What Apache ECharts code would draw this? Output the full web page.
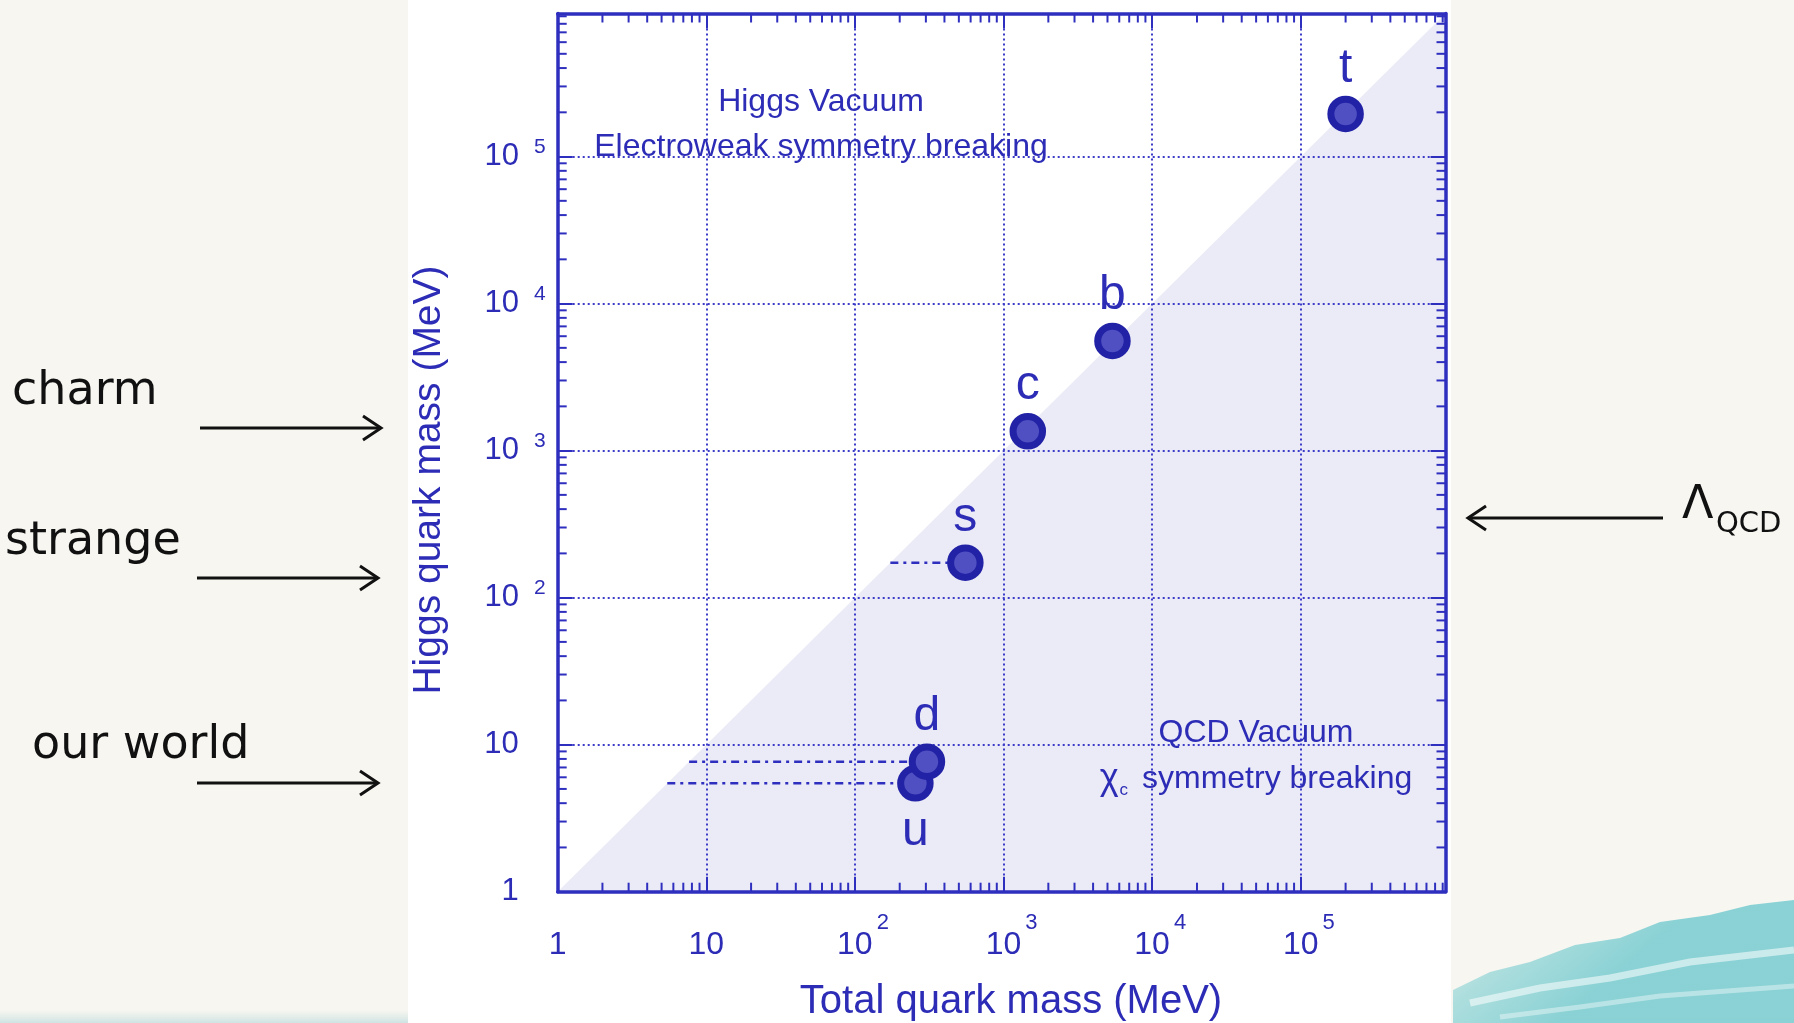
<!DOCTYPE html>
<html>
<head>
<meta charset="utf-8">
<script src="https://cdn.jsdelivr.net/npm/echarts@6/dist/echarts.min.js"></script>
<style>
  html, body { margin: 0; padding: 0; background: #f7f6f1; }
  #chart { width: 1794px; height: 1023px; }
</style>
</head>
<body>
<div id="chart"></div>
<script>
// Quark masses (MeV): total mass vs. the part coming from the Higgs field
const quarks    = ['u', 'd', 's', 'c', 'b', 't'];
const totalMass = [255, 305, 553, 1455, 5400, 200000];
const higgsMass = [5.46, 7.66, 173, 1355, 5570, 195000];
const labelSide = ['bottom', 'top', 'top', 'top', 'top', 'top'];
// quarks whose Higgs mass is marked by a dash-dot bar back to the diagonal
const barQuarks = ['s', 'd', 'u'];

// axis range (both axes logarithmic)
const axisMin = 1;
const axisMax = 9.4e5;
// minor tick multipliers inside each decade
const minorSteps = [2, 3, 4, 5, 6, 7, 8, 9];
const decades = [1, 10, 100, 1e3, 1e4, 1e5];

const BLUE = '#2f2fbf';
const TEXT_BLUE = '#2c2cb6';
const FONT = '"Liberation Sans", Arial, Helvetica, sans-serif';

const minorValues = [];
decades.forEach(d => minorSteps.forEach(m => {
  if (d * m < axisMax) minorValues.push(d * m);
}));

function decadeExp(v) {
  const l = Math.log10(v);
  const e = Math.round(l);
  return Math.abs(l - e) < 1e-6 ? e : null;
}

function xLabel(v) {
  const e = decadeExp(v);
  if (e === null) return '';
  if (e === 0) return '{b|1}';
  if (e === 1) return '{b|10}';
  return '{p| }{b|10}{s|' + e + '}';
}
function yLabel(v) {
  const e = decadeExp(v);
  if (e === null) return '';
  if (e === 0) return '{b|1}{p| }';
  if (e === 1) return '{b|10}{p| }';
  return '{b|10}{s|' + e + '}';
}

const chart = echarts.init(document.getElementById('chart'), null, { renderer: 'canvas' });

const logAxis = (extra) => Object.assign({
  type: 'log',
  logBase: 10,
  min: axisMin,
  max: axisMax,
  z: 3,
  axisLine: { show: true, onZero: false, lineStyle: { color: BLUE, width: 3.5 } },
  axisTick: { show: true, inside: true, length: 15, lineStyle: { color: BLUE, width: 2 } },
  splitLine: { show: false },
  axisLabel: { show: false }
}, extra);

// diagonal region where the QCD vacuum dominates (below total = Higgs)
function renderShade(params, api) {
  const a = api.coord([axisMin, axisMin]);
  const b = api.coord([axisMax, axisMax]);
  const c = api.coord([axisMax, axisMin]);
  return {
    type: 'polygon',
    shape: { points: [a, b, c] },
    style: { fill: '#ebebf7' }
  };
}

function renderMinorX(params, api) {
  const v = api.value(0);
  const bot = api.coord([v, axisMin]);
  const top = api.coord([v, axisMax]);
  const st = { stroke: BLUE, lineWidth: 2 };
  return {
    type: 'group',
    children: [
      { type: 'line', shape: { x1: bot[0], y1: bot[1], x2: bot[0], y2: bot[1] - 9 }, style: st },
      { type: 'line', shape: { x1: top[0], y1: top[1], x2: top[0], y2: top[1] + 9 }, style: st }
    ]
  };
}
function renderMinorY(params, api) {
  const v = api.value(1);
  const lft = api.coord([axisMin, v]);
  const rgt = api.coord([axisMax, v]);
  const st = { stroke: BLUE, lineWidth: 2 };
  return {
    type: 'group',
    children: [
      { type: 'line', shape: { x1: lft[0], y1: lft[1], x2: lft[0] + 9, y2: lft[1] }, style: st },
      { type: 'line', shape: { x1: rgt[0], y1: rgt[1], x2: rgt[0] - 9, y2: rgt[1] }, style: st }
    ]
  };
}

const barSeries = barQuarks.map(q => {
  const i = quarks.indexOf(q);
  return {
    type: 'line',
    name: q + '-bar',
    z: 5,
    symbol: 'none',
    silent: true,
    data: [[higgsMass[i], higgsMass[i]], [totalMass[i], higgsMass[i]]],
    lineStyle: { color: BLUE, width: 2.5, type: [8, 5, 3, 5] }
  };
});

const points = quarks.map((q, i) => ({
  name: q,
  value: [totalMass[i], higgsMass[i]],
  label: {
    position: labelSide[i],
    distance: labelSide[i] === 'top' ? 3 : 6
  }
}));

const arrow = (x1, x2, y) => {
  const dir = x2 > x1 ? 1 : -1;
  return [
    { type: 'line', shape: { x1, y1: y, x2, y2: y }, style: { stroke: '#111', lineWidth: 3 } },
    { type: 'polyline', shape: { points: [[x2 - dir * 18, y - 12], [x2, y], [x2 - dir * 18, y + 12]] },
      style: { stroke: '#111', lineWidth: 3, fill: null } }
  ];
};

const sideFont = '"DejaVu Sans", Verdana, sans-serif';

const option = {
  animation: false,
  backgroundColor: '#f7f6f1',
  grid: {
    left: 557.7, top: 13.5, right: 348.5, bottom: 131.3,
    containLabel: false, outerBoundsMode: 'none'
  },
  xAxis: [
    logAxis({
      position: 'bottom',
      splitLine: { show: true, lineStyle: { color: '#3c3cc8', width: 2, type: [2, 3] } },
      axisLabel: {
        show: true, margin: 20, formatter: xLabel,
        rich: {
          b: { fontSize: 32, lineHeight: 67, color: TEXT_BLUE, fontFamily: FONT },
          s: { fontSize: 22, lineHeight: 22, verticalAlign: 'top', padding: [0, 0, 0, 4], color: TEXT_BLUE, fontFamily: FONT },
          p: { width: 16, fontSize: 22, lineHeight: 22 }
        }
      }
    }),
    logAxis({ position: 'top' })
  ],
  yAxis: [
    logAxis({
      position: 'left',
      splitLine: { show: true, lineStyle: { color: '#3c3cc8', width: 2, type: [2, 3] } },
      axisLabel: {
        show: true, margin: 12, formatter: yLabel,
        rich: {
          b: { fontSize: 31, lineHeight: 40, color: TEXT_BLUE, fontFamily: FONT },
          s: { fontSize: 21, lineHeight: 21, verticalAlign: 'top', padding: [0, 0, 0, 15], color: TEXT_BLUE, fontFamily: FONT },
          p: { width: 27, fontSize: 21, lineHeight: 21 }
        }
      }
    }),
    logAxis({ position: 'right' })
  ],
  series: [
    {
      type: 'custom', name: 'qcd-region', z: 1, silent: true,
      renderItem: renderShade,
      data: [[axisMin, axisMin]]
    },
    {
      type: 'custom', name: 'minor-x', z: 4, silent: true,
      renderItem: renderMinorX,
      data: minorValues.map(v => [v, axisMin])
    },
    {
      type: 'custom', name: 'minor-y', z: 4, silent: true,
      renderItem: renderMinorY,
      data: minorValues.map(v => [axisMin, v])
    },
    ...barSeries,
    {
      type: 'scatter',
      name: 'quarks',
      z: 6,
      symbol: 'circle',
      symbolSize: 29.5,
      itemStyle: { color: '#5050c2', borderColor: '#2222a6', borderWidth: 7, opacity: 1 },
      label: {
        show: true,
        formatter: '{b}',
        fontSize: 48,
        fontFamily: FONT,
        color: TEXT_BLUE
      },
      data: points
    }
  ],
  graphic: [
    // white slide panel
    { type: 'rect', z: -10, shape: { x: 408, y: 0, width: 1043, height: 1023 }, style: { fill: '#ffffff' } },
    // teal brush strokes, bottom right
    { type: 'polygon', z: -9,
      shape: { points: [[1453, 1023], [1453, 990], [1490, 972], [1530, 962], [1575, 945], [1620, 938], [1660, 922], [1710, 915], [1750, 905], [1794, 900], [1794, 1023]] },
      style: { fill: { type: 'linear', x: 0, y: 0, x2: 0.3, y2: 1, colorStops: [
        { offset: 0, color: 'rgba(140,210,212,0.25)' },
        { offset: 0.5, color: 'rgba(100,198,202,0.5)' },
        { offset: 1, color: 'rgba(80,190,198,0.65)' }] } } },
    { type: 'polyline', z: -8,
      shape: { points: [[1470, 1003], [1540, 988], [1610, 978], [1690, 962], [1794, 950]] },
      style: { stroke: 'rgba(255,255,255,0.55)', lineWidth: 7, fill: null } },
    { type: 'polyline', z: -8,
      shape: { points: [[1500, 1017], [1580, 1007], [1660, 996], [1794, 986]] },
      style: { stroke: 'rgba(255,255,255,0.4)', lineWidth: 5, fill: null } },
    // faint teal strip, bottom left
    { type: 'rect', z: -9, shape: { x: 0, y: 1010, width: 408, height: 13 },
      style: { fill: { type: 'linear', x: 0, y: 0, x2: 0, y2: 1, colorStops: [
        { offset: 0, color: 'rgba(150,200,200,0)' }, { offset: 1, color: 'rgba(130,195,198,0.35)' }] } } },

    // region captions
    { type: 'text', z: 10, x: 821, y: 102,
      style: { text: 'Higgs Vacuum', font: '32px ' + FONT, fill: TEXT_BLUE, align: 'center', verticalAlign: 'middle' } },
    { type: 'text', z: 10, x: 821, y: 147,
      style: { text: 'Electroweak symmetry breaking', font: '32px ' + FONT, fill: TEXT_BLUE, align: 'center', verticalAlign: 'middle' } },
    { type: 'text', z: 10, x: 1256, y: 733,
      style: { text: 'QCD Vacuum', font: '32px ' + FONT, fill: TEXT_BLUE, align: 'center', verticalAlign: 'middle' } },
    { type: 'text', z: 10, x: 1256, y: 779,
      style: {
        text: '{g|χ}{c|c} symmetry breaking',
        align: 'center', verticalAlign: 'middle',
        rich: {
          g: { fontSize: 36, fontFamily: FONT, color: TEXT_BLUE, lineHeight: 40 },
          c: { fontSize: 17, fontFamily: FONT, color: TEXT_BLUE, lineHeight: 40, verticalAlign: 'bottom', padding: [0, 5, 0, 1] }
        },
        font: '32px ' + FONT, fill: TEXT_BLUE
      } },

    // axis titles
    { type: 'text', z: 10, x: 429, y: 480, rotation: Math.PI / 2,
      style: { text: 'Higgs quark mass (MeV)', font: '39px ' + FONT, fill: TEXT_BLUE, align: 'center', verticalAlign: 'middle' } },
    { type: 'text', z: 10, x: 1011, y: 1002,
      style: { text: 'Total quark mass (MeV)', font: '40px ' + FONT, fill: TEXT_BLUE, align: 'center', verticalAlign: 'middle' } },

    // side notes
    { type: 'text', z: 10, x: 12, y: 392,
      style: { text: 'charm', font: '46px ' + sideFont, fill: '#111', align: 'left', verticalAlign: 'middle' } },
    { type: 'text', z: 10, x: 5, y: 542,
      style: { text: 'strange', font: '46px ' + sideFont, fill: '#111', align: 'left', verticalAlign: 'middle' } },
    { type: 'text', z: 10, x: 32, y: 746,
      style: { text: 'our world', font: '46px ' + sideFont, fill: '#111', align: 'left', verticalAlign: 'middle' } },
    ...arrow(200, 381, 428),
    ...arrow(197, 378, 578),
    ...arrow(197, 378, 783),
    ...arrow(1663, 1468, 518),
    { type: 'text', z: 10, x: 1682, y: 506,
      style: { text: 'Λ', font: '46px ' + sideFont, fill: '#111', align: 'left', verticalAlign: 'middle' } },
    { type: 'text', z: 10, x: 1716, y: 524,
      style: { text: 'QCD', font: '29px ' + sideFont, fill: '#111', align: 'left', verticalAlign: 'middle' } }
  ]
};

chart.setOption(option);
</script>
</body>
</html>
